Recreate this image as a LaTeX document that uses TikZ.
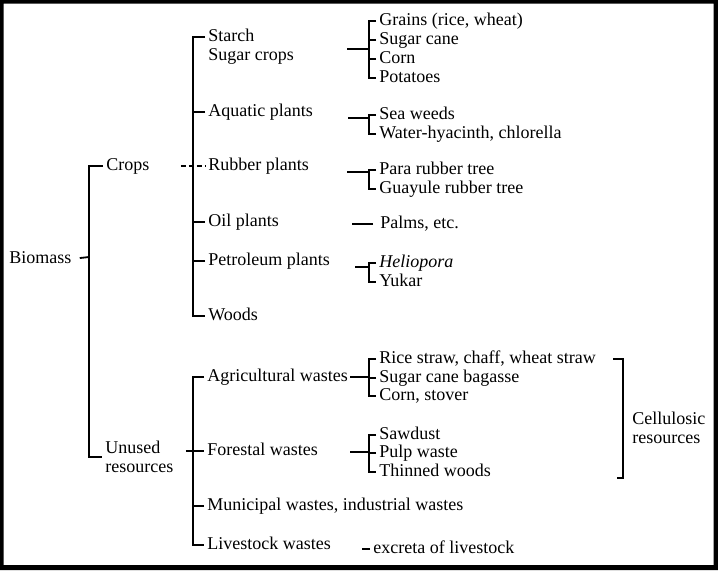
\documentclass[tikz,border=0pt]{standalone}
\usepackage{fontspec}
\setmainfont{Liberation Serif}

\tikzset{
  leaf/.style={anchor=west, inner xsep=1.25pt, inner ysep=0pt, text height=6.3pt, text depth=1.9pt, yshift=-0.8pt},
  twoline/.style={anchor=west, inner xsep=1.25pt, inner ysep=0pt, align=left},
}

\begin{document}
\begin{tikzpicture}[x=0.5pt, y=-0.5pt, line width=0.9pt, font=\fontsize{9}{9.25}\selectfont]
\useasboundingbox (0,0) rectangle (718,570);
\fill[even odd rule] (0,0) rectangle (718,570) (3.5,3.5) rectangle (713.5,565);

% first levels
\node[leaf] (biomass) at (6,257) {Biomass};
\node[leaf] (crops) at (103,164) {Crops};
\node[twoline] (unused) at (102,457) {Unused\\resources};

% crops
\node[leaf] (starch) at (205,35) {Starch};
\node[leaf] (sugar) at (205,54) {Sugar crops};
\node[leaf] (aquatic) at (205,110) {Aquatic plants};
\node[leaf] (rubber) at (205,164) {Rubber plants};
\node[leaf] (oil) at (205,220) {Oil plants};
\node[leaf] (petro) at (205,259) {Petroleum plants};
\node[leaf] (woods) at (205,314) {Woods};

% unused resources
\node[leaf] (agri) at (204,375) {Agricultural wastes};
\node[leaf] (forestal) at (204,449) {Forestal wastes};
\node[leaf] (municipal) at (204,504) {Municipal wastes, industrial wastes};
\node[leaf] (livestock) at (204,543) {Livestock wastes};

% right column
\node[leaf] (grains) at (376,19) {Grains (rice, wheat)};
\node[leaf] (sugarcane) at (376,38) {Sugar cane};
\node[leaf] (corn) at (376,57) {Corn};
\node[leaf] (potatoes) at (376,76) {Potatoes};
\node[leaf] (seaweeds) at (376,113) {Sea weeds};
\node[leaf] (waterh) at (376,132) {Water-hyacinth, chlorella};
\node[leaf] (para) at (376,168) {Para rubber tree};
\node[leaf] (guayule) at (376,187) {Guayule rubber tree};
\node[leaf] (palms) at (377,222) {Palms, etc.};
\node[leaf] (helio) at (376,261) {\textit{Heliopora}};
\node[leaf] (yukar) at (376,280) {Yukar};
\node[leaf] (rice) at (376,357) {Rice straw, chaff, wheat straw};
\node[leaf] (bagasse) at (376,376) {Sugar cane bagasse};
\node[leaf] (stover) at (376,394) {Corn, stover};
\node[leaf] (sawdust) at (376,433) {Sawdust};
\node[leaf] (pulp) at (376,451) {Pulp waste};
\node[leaf] (thinned) at (376,470) {Thinned woods};
\node[leaf] (excreta) at (370,547) {excreta of livestock};
\node[twoline] (cellulosic) at (629,428) {Cellulosic\\resources};

% trunk
\coordinate (trunk) at (89,257);
\draw[shorten <=2.5pt] (biomass.east) -- (trunk);
\draw (crops.west) -| (trunk) |- (unused.west);

\coordinate (cropbar) at (193,165);
\draw (starch.west) -| (cropbar) |- (woods.west);
\foreach \n in {aquatic,oil,petro}
  \draw (\n.west) -- (\n.west -| cropbar);
\draw[shorten <=14pt, dash pattern=on 2.5pt off 1.5pt] (crops.east) -- (rubber.west);

\coordinate (wastebar) at (193,450);
\draw (agri.west) -| (wastebar) |- (livestock.west);
\draw (municipal.west) -- (municipal.west -| wastebar);
\draw[shorten <=4.5pt] (unused.east |- forestal.west) -- (forestal.west);

% brackets
\foreach \ga/\gb/\gy/\gx in {grains/potatoes/49/347, seaweeds/waterh/118/348, para/guayule/172/347,
  helio/yukar/267/355, rice/stover/377/350, sawdust/thinned/452/350} {
  \draw (\ga.west) -- ++(-7,0) |- (\gb.west);
  \draw (\gx,\gy) -- (369,\gy);
}
\foreach \n in {sugarcane,corn,bagasse,pulp}
  \draw (\n.west) -- ++(-7,0);
\draw[shorten <=2pt] (palms.west) -- ++(-25,0);
\draw (excreta.west) -- ++(-8,0);

\coordinate (cellbar) at (623,478);
\draw ([xshift=7pt]rice.east) -| (cellbar) -- ++(-6,0);
\end{tikzpicture}
\end{document}
